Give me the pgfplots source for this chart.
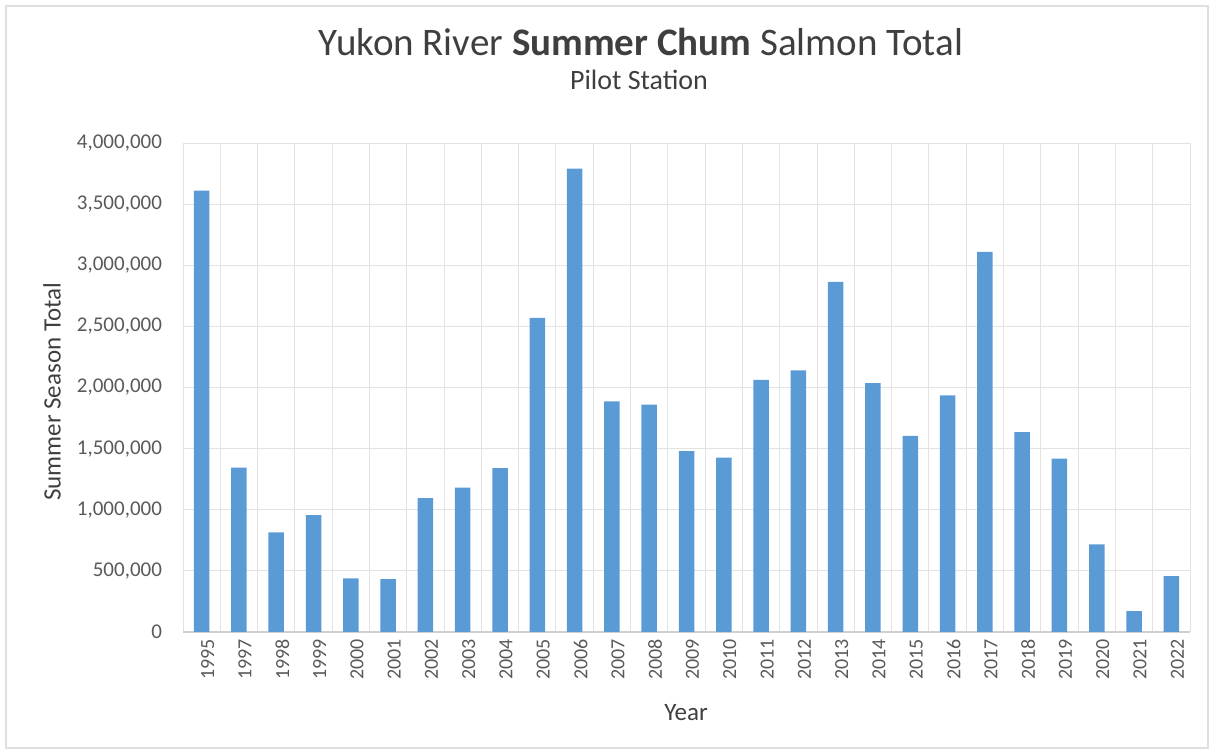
\documentclass[border=0pt]{standalone}
\usepackage{pgfplots}
\pgfplotsset{compat=1.18}
\usepackage{fontspec}
\setmainfont{Carlito}
\definecolor{barblue}{HTML}{5B9BD5}
\definecolor{txtgray}{HTML}{595959}
\definecolor{titlegray}{HTML}{3F3F3F}
\definecolor{gridgray}{HTML}{E3E3E3}
\pgfplotstableread{
x year value
0 1995 3610000
1 1997 1345000
2 1998 814000
3 1999 955000
4 2000 438000
5 2001 432000
6 2002 1096000
7 2003 1180000
8 2004 1340000
9 2005 2570000
10 2006 3790000
11 2007 1886000
12 2008 1860000
13 2009 1480000
14 2010 1426000
15 2011 2063000
16 2012 2140000
17 2013 2865000
18 2014 2035000
19 2015 1605000
20 2016 1935000
21 2017 3110000
22 2018 1635000
23 2019 1418000
24 2020 716000
25 2021 170000
26 2022 457000
}\datatable
\begin{document}
\begin{tikzpicture}[x=1pt,y=1pt]
\path[use as bounding box] (0,0) rectangle (607,377);
\draw[gray!25, line width=0.6pt] (3,3) rectangle (604,374);
\begin{axis}[
  at={(91.5pt,61pt)}, anchor=south west,
  scale only axis, width=503.5pt, height=244.5pt,
  xmin=-0.5, xmax=26.5, ymin=0, ymax=4000000,
  xtick=data,
  xticklabels={1995,1997,1998,1999,2000,2001,2002,2003,2004,2005,2006,2007,2008,2009,2010,2011,2012,2013,2014,2015,2016,2017,2018,2019,2020,2021,2022},
  minor xtick={-0.5,0.5,...,26.5},
  xminorgrids=true, ymajorgrids=true,
  minor grid style={gridgray, line width=0.5pt},
  major grid style={gridgray, line width=0.5pt},
  ytick={0,500000,...,4000000},
  scaled y ticks=false,
  yticklabel={\pgfmathprintnumber[fixed,1000 sep={,},precision=0,assume math mode=true]{\tick}},
  tick label style={font=\fontsize{10.5}{12}\selectfont, text=txtgray},
  xticklabel style={rotate=90, anchor=east, xshift=0pt, yshift=-3pt, font=\fontsize{10}{12}\selectfont},
  yticklabel style={xshift=-7pt},
  major tick length=0pt, minor tick length=0pt,
  axis line style={draw=none},
  clip=false,
]
\draw[gridgray!80!gray, line width=0.8pt] (axis cs:-0.5,0) -- (axis cs:26.5,0);
\addplot[ybar, bar width=7.75pt, fill=barblue, draw=none] table[x=x, y=value] {\datatable};
\end{axis}
\node[text=titlegray, font=\fontsize{19.5}{23}\selectfont] at (320.5,356) {Yukon River \textbf{Summer Chum} Salmon Total};
\node[text=titlegray, font=\fontsize{14}{17}\selectfont] at (319.5,337) {Pilot Station};
\node[text=titlegray, font=\fontsize{12.5}{15}\selectfont] at (343,20.5) {Year};
\node[text=titlegray, font=\fontsize{12.5}{15}\selectfont, rotate=90] at (26,181) {Summer Season Total};
\end{tikzpicture}
\end{document}
